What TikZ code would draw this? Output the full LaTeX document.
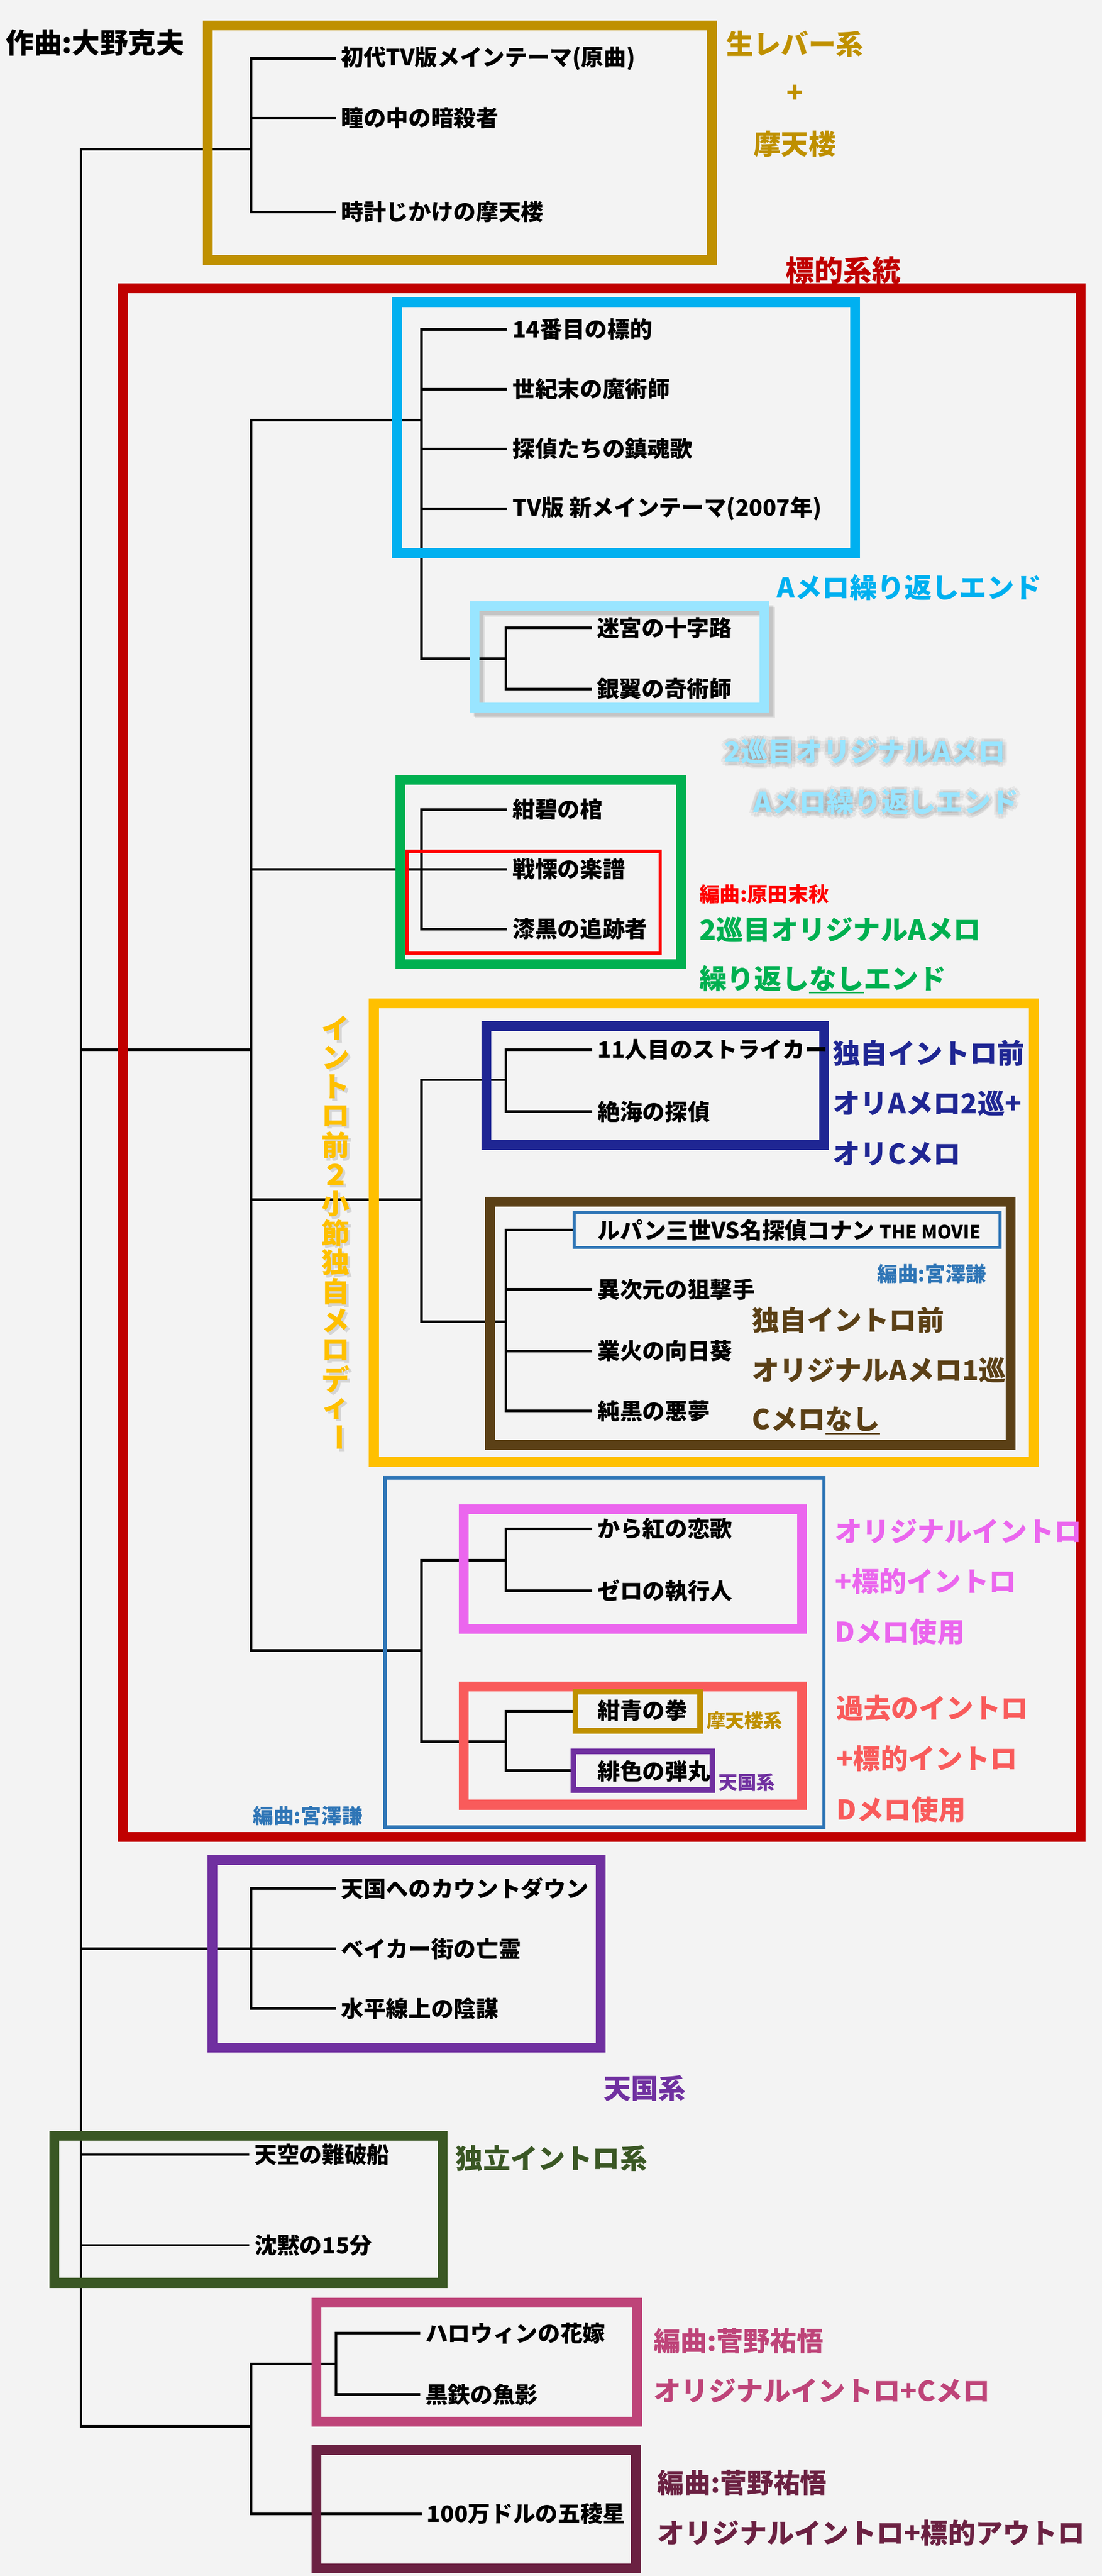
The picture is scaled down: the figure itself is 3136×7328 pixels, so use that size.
\documentclass[tikz,border=0pt]{standalone}
\usepackage{fontspec}
\setmainfont{Noto Sans CJK JP}
\definecolor{bg}{HTML}{F3F3F3}
\definecolor{cgold}{HTML}{BF9000}
\definecolor{cred}{HTML}{C00000}
\definecolor{ccyan}{HTML}{00B0F0}
\definecolor{clight}{HTML}{99E5FF}
\definecolor{cgreen}{HTML}{00B050}
\definecolor{credthin}{HTML}{FF0000}
\definecolor{cyellow}{HTML}{FFC000}
\definecolor{cnavy}{HTML}{1F2693}
\definecolor{cbrown}{HTML}{5B4016}
\definecolor{csteel}{HTML}{2E75B6}
\definecolor{cpink}{HTML}{EB66EE}
\definecolor{csalmon}{HTML}{F95B5B}
\definecolor{cpurple}{HTML}{7030A0}
\definecolor{cdgreen}{HTML}{3A5724}
\definecolor{crose}{HTML}{BE4479}
\definecolor{cmaroon}{HTML}{6B2142}
\newcommand\ulnasi[1]{\setbox0\hbox{#1}\rlap{\rule[-0.17em]{\wd0}{0.06em}}\box0}
\pgfdeclarelayer{back}
\pgfdeclarelayer{lines}
\pgfdeclarelayer{boxes}
\pgfsetlayers{back,lines,boxes,main}
\begin{document}
\begin{tikzpicture}[x=0.25pt,y=-0.25pt,
  tree/.style={line width=1.75pt, line join=miter, black},
  bx/.style={line width=7pt},
  item/.style={anchor=west, inner xsep=3.5pt, inner ysep=0pt, font=\fontsize{16}{16}\selectfont\bfseries},
  lab/.style={anchor=west, inner sep=0pt, font=\fontsize{19.5}{20}\selectfont\bfseries},
  sm/.style={anchor=west, inner sep=0pt, font=\fontsize{14.5}{15}\selectfont\bfseries},
  tiny/.style={anchor=west, inner sep=0pt, font=\fontsize{13.5}{14}\selectfont\bfseries},
  vch/.style={inner sep=0pt, font=\fontsize{20}{20}\selectfont\bfseries},
]
\begin{pgfonlayer}{back}
\fill[bg] (0,0) rectangle (3136,7328);
\end{pgfonlayer}
\useasboundingbox (0,0) rectangle (3136,7328);

% ---------------- group boxes ----------------
\begin{pgfonlayer}{boxes}
\draw[bx, cgold] (592,72) rectangle (2026,739);
\draw[bx, cred] (350,820) rectangle (3076,5225);
\draw[bx, ccyan] (1130,860) rectangle (2434,1573);
\draw[bx, black, opacity=0.12] (1362,1736) rectangle (2188,2025);
\draw[bx, black, opacity=0.08] (1366,1740) rectangle (2192,2029);
\draw[bx, clight] (1350,1724) rectangle (2176,2013);
\draw[bx, cgreen] (1140,2218) rectangle (1938,2743);
\draw[line width=2.5pt, credthin] (1159,2422) rectangle (1879,2711);
\draw[bx, cyellow] (1064,2854) rectangle (2942,4158);
\draw[bx, cnavy] (1384,2919) rectangle (2346,3257);
\draw[bx, cbrown] (1394,3418) rectangle (2876,4110);
\draw[line width=2.5pt, csteel] (1095,4204) rectangle (2345,5198);
\draw[bx, cpink] (1320,4294) rectangle (2282,4634);
\draw[bx, csalmon] (1320,4798) rectangle (2282,5134);
\draw[bx, cpurple] (604,5292) rectangle (1710,5825);
\draw[bx, cdgreen] (154,6075) rectangle (1260,6494);
\draw[bx, crose] (900,6551) rectangle (1814,6889);
\draw[bx, cmaroon] (900,6970) rectangle (1810,7307);
\end{pgfonlayer}

% ---------------- small framed boxes ----------------
\node[draw=csteel, line width=2pt, minimum width=303pt, minimum height=25pt, inner sep=0pt] (lupbox) at (2240,3499) {};
\node[draw=cgold, line width=4pt, minimum width=88.5pt, minimum height=28pt, inner sep=0pt] (kbox) at (1815,4868) {};
\node[draw=cpurple, line width=4pt, minimum width=99pt, minimum height=27.5pt, inner sep=0pt] (mbox) at (1830,5037) {};

% ---------------- item nodes ----------------
\node[item] (g1) at (956,166) {初代TV版メインテーマ(原曲)};
\node[item] (g2) at (956,336) {瞳の中の暗殺者};
\node[item] (g3) at (956,603) {時計じかけの摩天楼};

\node[item] (c1) at (1444,937) {14番目の標的};
\node[item] (c2) at (1444,1107) {世紀末の魔術師};
\node[item] (c3) at (1444,1277) {探偵たちの鎮魂歌};
\node[item] (c4) at (1444,1447) {TV版 新メインテーマ(2007年)};
\node[item] (l1) at (1684,1786) {迷宮の十字路};
\node[item] (l2) at (1684,1960) {銀翼の奇術師};

\node[item] (gr1) at (1444,2303) {紺碧の棺};
\node[item] (gr2) at (1444,2473) {戦慄の楽譜};
\node[item] (gr3) at (1444,2643) {漆黒の追跡者};

\node[item] (n1) at (1686,2986) {11人目のストライカー};
\node[item] (n2) at (1686,3162) {絶海の探偵};
\node[item] (b1) at (1686,3499) {ルパン三世VS名探偵コナン {\fontsize{13}{13}\selectfont THE MOVIE}};
\node[item] (b2) at (1686,3668) {異次元の狙撃手};
\node[item] (b3) at (1686,3843) {業火の向日葵};
\node[item] (b4) at (1686,4014) {純黒の悪夢};

\node[item] (p1) at (1686,4349) {から紅の恋歌};
\node[item] (p2) at (1686,4525) {ゼロの執行人};
\node[item] (s1) at (1686,4866) {紺青の拳};
\node[item] (s2) at (1686,5038) {緋色の弾丸};

\node[item] (h1) at (956,5372) {天国へのカウントダウン};
\node[item] (h2) at (956,5544) {ベイカー街の亡霊};
\node[item] (h3) at (956,5714) {水平線上の陰謀};

\node[item] (d1) at (710,6129) {天空の難破船};
\node[item] (d2) at (710,6387) {沈黙の15分};

\node[item] (k1) at (1196,6637) {ハロウィンの花嫁};
\node[item] (k2) at (1196,6811) {黒鉄の魚影};
\node[item] (m1) at (1200,7151) {100万ドルの五稜星};

% ---------------- junction coordinates ----------------
\coordinate (T1) at (230,425);
\coordinate (T2) at (230,2986);
\coordinate (T3) at (230,5544);
\coordinate (T4) at (230,6902);
\coordinate (vG) at (714,425);
\coordinate (vR) at (714,2986);
\coordinate (vK) at (714,6902);
\coordinate (R1) at (714,1195);
\coordinate (R2) at (714,2473);
\coordinate (R3) at (714,3413);
\coordinate (R4) at (714,4695);
\coordinate (C0) at (1200,1195);
\coordinate (L0) at (1200,1874);
\coordinate (L1) at (1440,1874);
\coordinate (GR0) at (1200,2473);
\coordinate (Y0) at (1200,3413);
\coordinate (Y1) at (1200,3072);
\coordinate (Y2) at (1200,3760);
\coordinate (N0) at (1440,3072);
\coordinate (B0) at (1440,3760);
\coordinate (P0) at (1200,4695);
\coordinate (P1) at (1200,4438);
\coordinate (P2) at (1200,4954);
\coordinate (Q1) at (1440,4438);
\coordinate (Q2) at (1440,4954);
\coordinate (H0) at (714,5544);
\coordinate (K1) at (714,6725);
\coordinate (KV) at (956,6725);

% ---------------- connectors ----------------
\begin{pgfonlayer}{lines}
\draw[tree] (vG) -- (T1) -- (T4) -- (vK);
\draw[tree] (g1.west) -- (g1.west -| vG) -- (g3.west -| vG) -- (g3.west);
\draw[tree] (g2.west -| vG) -- (g2.west);
\draw[tree] (T2) -- (vR);
\draw[tree] (C0) -- (R1) -- (R4) -- (P0);
\draw[tree] (R3) -- (Y0);
\draw[tree] (c1.west) -- (c1.west -| C0) -- (L0) -- (L1);
\draw[tree] (c2.west -| C0) -- (c2.west);
\draw[tree] (c3.west -| C0) -- (c3.west);
\draw[tree] (c4.west -| C0) -- (c4.west);
\draw[tree] (l1.west) -- (l1.west -| L1) -- (l2.west -| L1) -- (l2.west);
\draw[tree] (gr1.west) -- (gr1.west -| GR0) -- (gr3.west -| GR0) -- (gr3.west);
\draw[tree] (R2) -- (gr2.west);
\draw[tree] (N0) -- (Y1) -- (Y2) -- (B0);
\draw[tree] (n1.west) -- (n1.west -| N0) -- (n2.west -| N0) -- (n2.west);
\draw[tree] (lupbox.west) -- (lupbox.west -| B0) -- (b4.west -| B0) -- (b4.west);
\draw[tree] (b2.west -| B0) -- (b2.west);
\draw[tree] (b3.west -| B0) -- (b3.west);
\draw[tree] (Q1) -- (P1) -- (P2) -- (Q2);
\draw[tree] (p1.west) -- (p1.west -| Q1) -- (p2.west -| Q1) -- (p2.west);
\draw[tree] (kbox.west) -- (kbox.west -| Q2) -- (mbox.west -| Q2) -- (mbox.west);
\draw[tree] (h1.west) -- (h1.west -| H0) -- (h3.west -| H0) -- (h3.west);
\draw[tree] (T3) -- (h2.west);
\draw[tree] (d1.west -| T1) -- (d1.west);
\draw[tree] (d2.west -| T1) -- (d2.west);
\draw[tree] (KV) -- (K1) -- (m1.west -| K1) -- (m1.west);
\draw[tree] (k1.west) -- (k1.west -| KV) -- (k2.west -| KV) -- (k2.west);
\end{pgfonlayer}

% ---------------- labels ----------------
\node[anchor=west, inner sep=0pt, font=\fontsize{20}{20}\selectfont\bfseries] (comp) at (16,122) {作曲:大野克夫};
\node[lab, anchor=center, text=cgold] (lbA) at (2262,125) {生レバー系};
\node[lab, anchor=center, text=cgold] (lbB) at (2262,267) {+};
\node[lab, anchor=center, text=cgold] (lbC) at (2262,410) {摩天楼};
\node[lab, anchor=center, text=cred, font=\fontsize{20.5}{21}\selectfont\bfseries] (lbD) at (2400,769) {標的系統};
\node[lab, text=ccyan] (lbE) at (2210,1671) {Aメロ繰り返しエンド};
\begin{pgfonlayer}{boxes}
\foreach \a in {0,45,...,315}{
  \node[lab, text=black, text opacity=0.05] at ([shift={(\a:3pt)}]2061,2139) {2巡目オリジナルAメロ};
  \node[lab, text=black, text opacity=0.05] at ([shift={(\a:3pt)}]2145,2283) {Aメロ繰り返しエンド};
}
\end{pgfonlayer}
\node[lab, text=clight] (lbF) at (2060,2137) {2巡目オリジナルAメロ};
\node[lab, text=clight] (lbG) at (2144,2281) {Aメロ繰り返しエンド};
\node[sm, text=credthin] (lbH) at (1990,2544) {編曲:原田末秋};
\node[lab, text=cgreen] (lbI) at (1990,2645) {2巡目オリジナルAメロ};
\node[lab, text=cgreen] (lbJ) at (1990,2786) {繰り返し\ulnasi{なし}エンド};
\node[lab, text=cnavy] (lbK) at (2370,2996) {独自イントロ前};
\node[lab, text=cnavy] (lbL) at (2370,3139) {オリAメロ2巡+};
\node[lab, text=cnavy] (lbM) at (2370,3282) {オリCメロ};
\node[sm, text=csteel] (lbN) at (2496,3623) {編曲:宮澤謙};
\node[lab, text=cbrown] (lbO) at (2140,3755) {独自イントロ前};
\node[lab, text=cbrown] (lbP) at (2140,3898) {オリジナルAメロ1巡};
\node[lab, text=cbrown] (lbQ) at (2140,4041) {Cメロ\ulnasi{なし}};
\node[lab, text=cpink] (lbR) at (2376,4356) {オリジナルイントロ};
\node[lab, text=cpink] (lbS) at (2376,4498) {+標的イントロ};
\node[lab, text=cpink] (lbT) at (2376,4642) {Dメロ使用};
\node[tiny, text=cgold] (lbU) at (2010,4895) {摩天楼系};
\node[tiny, text=cpurple] (lbV) at (2044,5071) {天国系};
\node[lab, text=csalmon] (lbW) at (2380,4859) {過去のイントロ};
\node[lab, text=csalmon] (lbX) at (2380,5003) {+標的イントロ};
\node[lab, text=csalmon] (lbY) at (2380,5147) {Dメロ使用};
\node[sm, text=csteel] (lbZ) at (720,5165) {編曲:宮澤謙};
\node[lab, anchor=center, text=cpurple] (lbAA) at (1835,5940) {天国系};
\node[lab, text=cdgreen] (lbAB) at (1296,6140) {独立イントロ系};
\node[lab, text=crose, font=\fontsize{19}{19}\selectfont\bfseries] (lbAC) at (1860,6659) {編曲:菅野祐悟};
\node[lab, text=crose] (lbAD) at (1860,6801) {オリジナルイントロ+Cメロ};
\node[lab, text=cmaroon, font=\fontsize{19}{19}\selectfont\bfseries] (lbAE) at (1870,7063) {編曲:菅野祐悟};
\node[lab, text=cmaroon] (lbAF) at (1870,7205) {オリジナルイントロ+標的アウトロ};

% ---------------- vertical label ----------------
\begin{pgfonlayer}{boxes}
\foreach \c [count=\i from 0] in {イ,ン,ト,ロ,前,２,小,節,独,自,メ,ロ,デ,ィ}{
  \node[vch, text=black, text opacity=0.12] at (962,2932+\i*83.2) {\c};
}
\node[vch, text=black, text opacity=0.12, rotate=-90] at (962,4096) {ー};
\end{pgfonlayer}
\foreach \c [count=\i from 0] in {イ,ン,ト,ロ,前,２,小,節,独,自,メ,ロ,デ,ィ}{
  \node[vch, text=cyellow] (vt\i) at (955,2925+\i*83.2) {\c};
}
\node[vch, text=cyellow, rotate=-90] (vt14) at (955,4089) {ー};
\end{tikzpicture}
\end{document}
